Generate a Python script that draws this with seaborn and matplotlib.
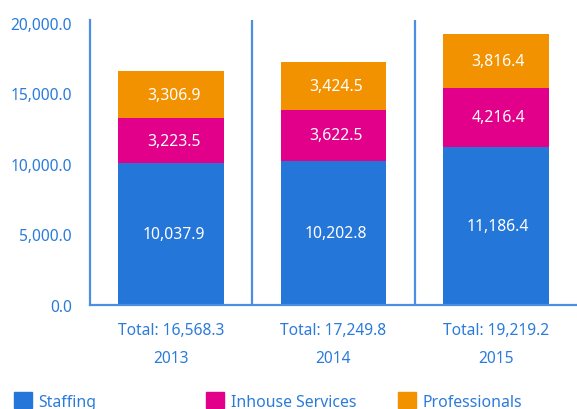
import matplotlib
matplotlib.use("Agg")
import matplotlib.pyplot as plt
from matplotlib.patches import Patch
import seaborn as sns
import pandas as pd

years = ["2013", "2014", "2015"]
staffing = [10037.9, 10202.8, 11186.4]
inhouse = [3223.5, 3622.5, 4216.4]
professionals = [3306.9, 3424.5, 3816.4]

series_names = ["Staffing", "Inhouse Services", "Professionals"]
colors = ["#2476D9", "#E2008A", "#F39200"]
txt_blue = "#2B7BDB"
line_blue = "#4A8FE2"

df = pd.DataFrame({"year": years, "Staffing": staffing,
                   "Inhouse Services": inhouse, "Professionals": professionals})
df["lvl1"] = df["Staffing"]
df["lvl2"] = df["lvl1"] + df["Inhouse Services"]
df["lvl3"] = df["lvl2"] + df["Professionals"]

sns.set_style("white")
plt.rcParams["font.family"] = ["Noto Sans", "DejaVu Sans"]

fig = plt.figure(figsize=(5.77, 4.10), dpi=100)
ax = fig.add_axes([90 / 577, 1 - 306 / 410, 487 / 577, 285 / 410])

# stacked by overlaying cumulative heights (top layer drawn first)
for col, c in zip(["lvl3", "lvl2", "lvl1"], colors[::-1]):
    sns.barplot(data=df, x="year", y=col, color=c, width=0.65,
                saturation=1, ax=ax, linewidth=0)

# segment labels
for i in range(len(years)):
    bottoms = [0, df["lvl1"][i], df["lvl2"][i]]
    vals = [staffing[i], inhouse[i], professionals[i]]
    for b, v in zip(bottoms, vals):
        ax.text(i + 0.015, b + v / 2, f"{v:,.1f}", ha="center", va="center",
                color="white", fontsize=11.3)

ax.set_xlim(-0.5, 2.5)
ax.set_ylim(0, 20200)
ax.set_yticks([0, 5000, 10000, 15000, 20000])
ax.set_yticklabels([f"{t:,.1f}" for t in [0, 5000, 10000, 15000, 20000]])
totals = df["lvl3"].tolist()
ax.set_xticks(range(len(years)))
ax.set_xticklabels([f"Total: {t:,.1f}\n{y}" for t, y in zip(totals, years)],
                   linespacing=2.0)
ax.set_xlabel("")
ax.set_ylabel("")
ax.tick_params(axis="both", length=0, colors=txt_blue, labelsize=11.2)
ax.tick_params(axis="y", pad=13)
ax.tick_params(axis="x", pad=12)

for s in ["top", "right"]:
    ax.spines[s].set_visible(False)
for s in ["left", "bottom"]:
    ax.spines[s].set_color(line_blue)
    ax.spines[s].set_linewidth(1.6)
for xv in [0.5, 1.5]:
    ax.axvline(xv, color=line_blue, lw=1.6)

# legend
for k, (name, c) in enumerate(zip(series_names, colors)):
    leg = fig.legend(handles=[Patch(color=c, label=name)], loc="center left",
                     bbox_to_anchor=((14 + k * 192) / 577, 1 - 402 / 410),
                     frameon=False, fontsize=11.4, handlelength=1.15,
                     handleheight=1.15, handletextpad=0.4, borderpad=0,
                     borderaxespad=0, labelcolor=txt_blue)

fig.savefig("out.png", dpi=100)
